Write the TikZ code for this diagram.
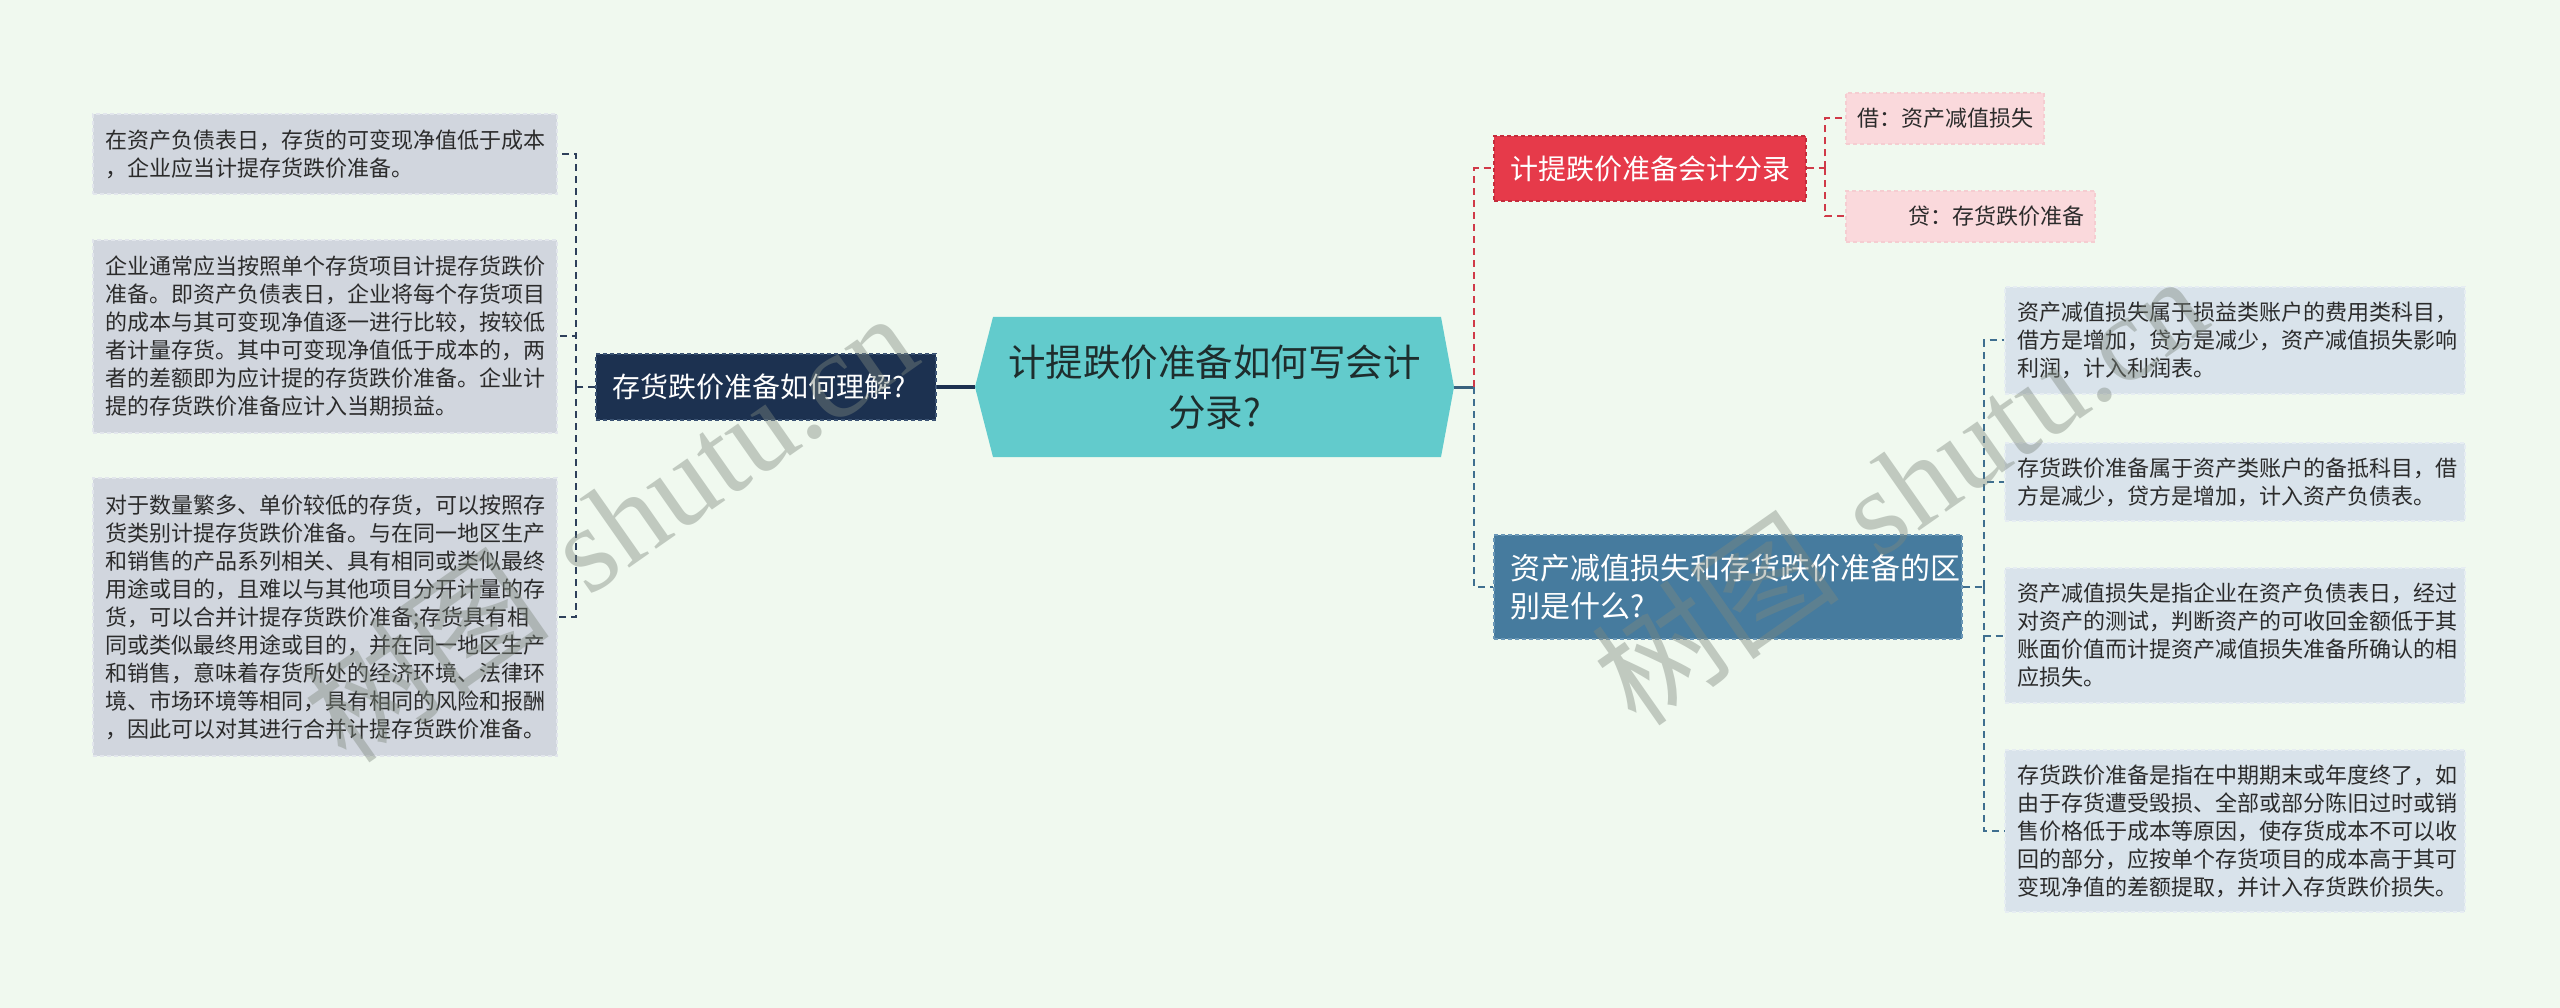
\documentclass[tikz,border=0pt]{standalone}
\usepackage{fontspec}
\setmainfont{Noto Sans CJK SC}
\newfontfamily\cjkfont{Noto Sans CJK SC}
\newfontfamily\wmserif{Liberation Serif}
\definecolor{bg}{HTML}{F0F9EF}
\definecolor{cCenter}{HTML}{62CBCC}
\definecolor{cCenterTxt}{HTML}{1E2D2D}
\definecolor{cNavy}{HTML}{1C3150}
\definecolor{cNavyB}{HTML}{3A5272}
\definecolor{cRed}{HTML}{E63A4A}
\definecolor{cRedB}{HTML}{C42C3B}
\definecolor{cBlue}{HTML}{467B9E}
\definecolor{cBlueB}{HTML}{6A97B6}
\definecolor{cPink}{HTML}{FAD9DC}
\definecolor{cPinkB}{HTML}{F5CDD1}
\definecolor{cGray}{HTML}{D1D6DE}
\definecolor{cGrayB}{HTML}{E2E6EC}
\definecolor{cLBlue}{HTML}{D9E3EB}
\definecolor{cLBlueB}{HTML}{E6EDF2}
\definecolor{cTxt}{HTML}{2B2B2B}
\definecolor{cLDash}{HTML}{2E405A}
\definecolor{cRDash}{HTML}{D03A48}
\definecolor{cBDash}{HTML}{3F6F8F}
\definecolor{cWM}{HTML}{7E887E}
\tikzset{
  conn/.style={line width=2pt, dash pattern=on 7pt off 5pt},
  ldash/.style={conn, draw=cLDash},
  rdash/.style={conn, draw=cRDash},
  bdash/.style={conn, draw=cBDash},
  boxbase/.style={rectangle, inner sep=0pt, line width=1.2pt, dash pattern=on 4pt off 3pt},
  leafL/.style={boxbase, fill=cGray, draw=cGrayB, text=cTxt, align=left,
    text width=440pt, minimum width=464pt, font=\fontsize{22}{28}\selectfont},
  leafR/.style={boxbase, fill=cLBlue, draw=cLBlueB, text=cTxt, align=left,
    text width=436pt, minimum width=460pt, font=\fontsize{22}{28}\selectfont},
  pinkbox/.style={boxbase, fill=cPink, draw=cPinkB, text=cTxt,
    minimum height=51pt, font=\fontsize{22}{28}\selectfont},
  navybox/.style={boxbase, fill=cNavy, draw=cNavyB, text=white,
    minimum width=340pt, minimum height=66pt, text width=308pt, align=left,
    font=\fontsize{28}{34}\selectfont},
  redbox/.style={boxbase, fill=cRed, draw=cRedB, text=white,
    minimum width=312pt, minimum height=65pt, align=center,
    font=\fontsize{28}{34}\selectfont},
  bluebox/.style={boxbase, fill=cBlue, draw=cBlueB, text=white,
    minimum width=468pt, minimum height=104pt, text width=436pt, align=left,
    font=\fontsize{30}{38}\selectfont},
  wm/.style={text=cWM, text opacity=0.42, inner sep=0pt, anchor=base west, rotate=35}
}
\newcommand{\wmtext}{{\cjkfont\fontsize{125}{125}\selectfont 树图}\hspace{45pt}{\wmserif\fontsize{122}{122}\selectfont shutu.cn}}
\begin{document}
\begin{tikzpicture}[x=1pt,y=-1pt]
\useasboundingbox (0,0) rectangle (2560,1008);
\fill[bg] (0,0) rectangle (2560,1008);

% central topic
\fill[cCenter] (993,317) -- (1441,317) -- (1454,387) -- (1441,457) -- (993,457) -- (975,387) -- cycle;
\node (ctr) at (1214.5,387) [rectangle, inner sep=0pt, minimum width=479pt, minimum height=140pt,
  align=center, text=cCenterTxt, font=\fontsize{37.5}{50}\selectfont]
  {计提跌价准备如何写会计\\分录?};

% left branch
\node (lq) at (766,387) [navybox] {存货跌价准备如何理解?};
\node (ll1) at (325,154) [leafL, minimum height=80pt]
 {在资产负债表日，存货的可变现净值低于成本\\，企业应当计提存货跌价准备。};
\node (ll2) at (325,336.5) [leafL, minimum height=193pt]
 {企业通常应当按照单个存货项目计提存货跌价\\准备。即资产负债表日，企业将每个存货项目\\的成本与其可变现净值逐一进行比较，按较低\\者计量存货。其中可变现净值低于成本的，两\\者的差额即为应计提的存货跌价准备。企业计\\提的存货跌价准备应计入当期损益。};
\node (ll3) at (325,617) [leafL, minimum height=278pt]
 {对于数量繁多、单价较低的存货，可以按照存\\货类别计提存货跌价准备。与在同一地区生产\\和销售的产品系列相关、具有相同或类似最终\\用途或目的，且难以与其他项目分开计量的存\\货，可以合并计提存货跌价准备;存货具有相\\同或类似最终用途或目的，并在同一地区生产\\和销售，意味着存货所处的经济环境、法律环\\境、市场环境等相同，具有相同的风险和报酬\\，因此可以对其进行合并计提存货跌价准备。};

% right branch
\node (rn) at (1650,168.5) [redbox] {计提跌价准备会计分录};
\node (p1) at (1945,118.5) [pinkbox, minimum width=198pt] {借：资产减值损失};
\node (p2) at (1970.5,216.5) [pinkbox, minimum width=249pt, text width=227pt, align=right] {贷：存货跌价准备};

\node (bn) at (1728,587) [bluebox] {资产减值损失和存货跌价准备的区\\别是什么?};
\node (r1) at (2235,340.5) [leafR, minimum height=107pt]
 {资产减值损失属于损益类账户的费用类科目，\\借方是增加，贷方是减少，资产减值损失影响\\利润，计入利润表。};
\node (r2) at (2235,482) [leafR, minimum height=78pt]
 {存货跌价准备属于资产类账户的备抵科目，借\\方是减少，贷方是增加，计入资产负债表。};
\node (r3) at (2235,635.5) [leafR, minimum height=135pt]
 {资产减值损失是指企业在资产负债表日，经过\\对资产的测试，判断资产的可收回金额低于其\\账面价值而计提资产减值损失准备所确认的相\\应损失。};
\node (r4) at (2235,831) [leafR, minimum height=162pt]
 {存货跌价准备是指在中期期末或年度终了，如\\由于存货遭受毁损、全部或部分陈旧过时或销\\售价格低于成本等原因，使存货成本不可以收\\回的部分，应按单个存货项目的成本高于其可\\变现净值的差额提取，并计入存货跌价损失。};

% connectors left
\coordinate (lhub) at (576,387);
\draw[cNavy, line width=3.5pt] (ctr.west) -- (lq.east);
\draw[ldash] (lq.west) -- (lhub);
\draw[ldash] (lhub) |- (ll1.east);
\draw[ldash] (lhub) |- (ll2.east);
\draw[ldash] (lhub) |- (ll3.east);

% connectors right
\coordinate (rhub) at (1474,387);
\draw[cBlue!80!black, line width=3pt] (ctr.east) -- (rhub);
\draw[rdash] (rhub) |- (rn.west);
\draw[bdash] (rhub) |- (bn.west);
\coordinate (phub) at (1825,168.5);
\draw[rdash] (rn.east) -- (phub);
\draw[rdash] (phub) |- (p1.west);
\draw[rdash] (phub) |- (p2.west);
\coordinate (bhub) at (1984,587);
\draw[bdash] (bn.east) -- (bhub);
\draw[bdash] (bhub) |- (r1.west);
\draw[bdash] (bhub) |- (r2.west);
\draw[bdash] (bhub) |- (r3.west);
\draw[bdash] (bhub) |- (r4.west);

% watermarks
\node (wm1) at (347,766.5) [wm] {\wmtext};
\node (wm2) at (1637,729.5) [wm] {\wmtext};
\end{tikzpicture}
\end{document}
